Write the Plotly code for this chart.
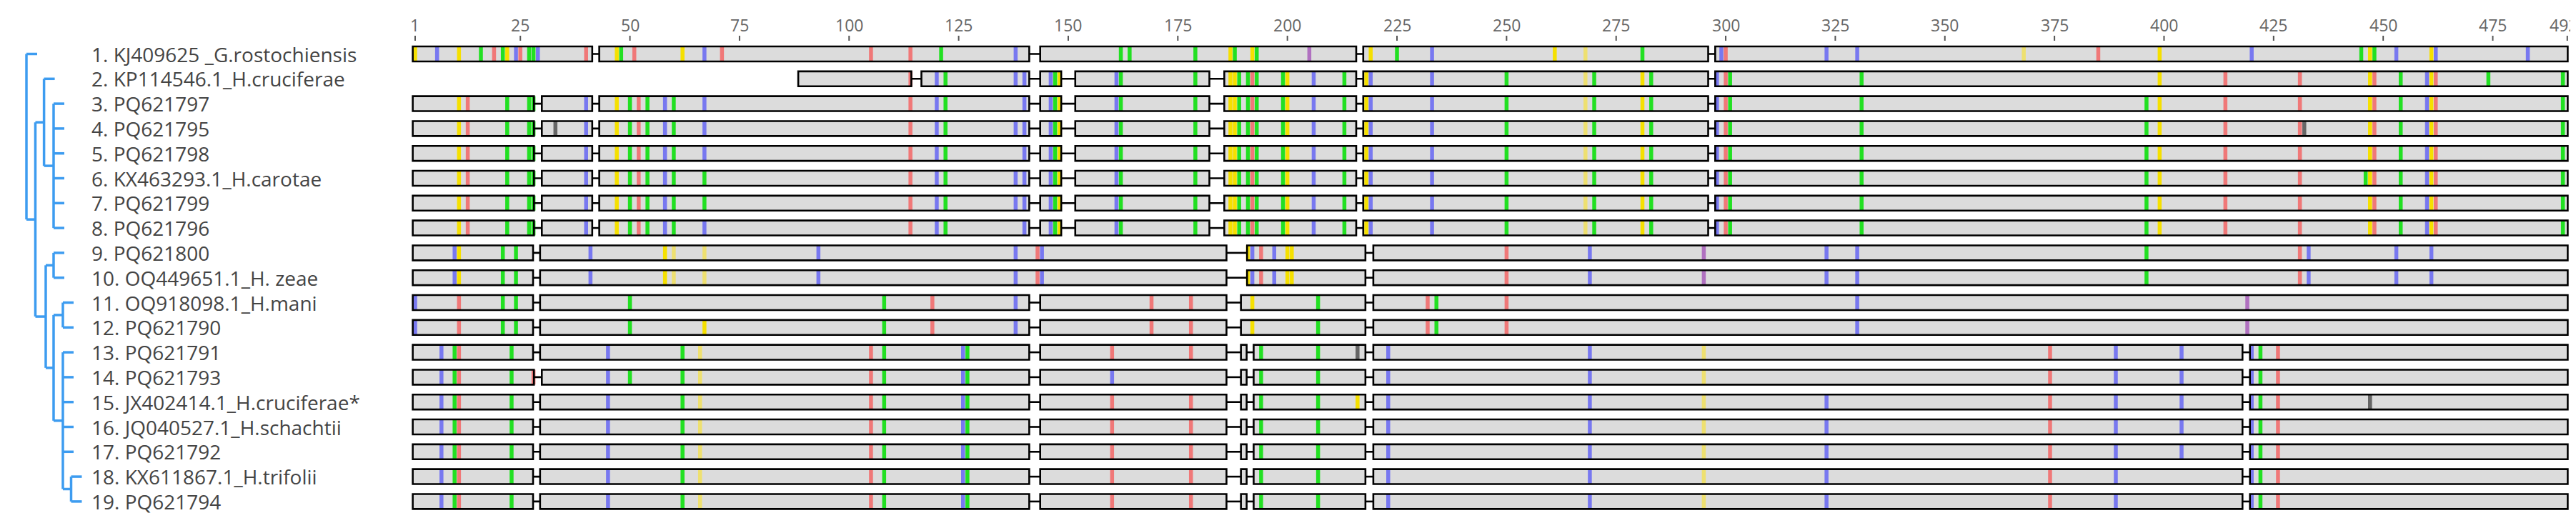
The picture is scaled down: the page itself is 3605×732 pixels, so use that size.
import plotly.graph_objects as go

W, H = 3605, 732

labels = ["1. KJ409625 _G.rostochiensis", "2. KP114546.1_H.cruciferae", "3. PQ621797", "4. PQ621795",
          "5. PQ621798", "6. KX463293.1_H.carotae", "7. PQ621799", "8. PQ621796", "9. PQ621800",
          "10. OQ449651.1_H. zeae", "11. OQ918098.1_H.mani", "12. PQ621790", "13. PQ621791",
          "14. PQ621793", "15. JX402414.1_H.cruciferae*", "16. JQ040527.1_H.schachtii",
          "17. PQ621792", "18. KX611867.1_H.trifolii", "19. PQ621794"]
tick_vals = [1, 25, 50, 75, 100, 125, 150, 175, 200, 225, 250, 275, 300, 325, 350, 375, 400, 425, 450, 475, 492]

# aligned segments (alignment coordinates)
seg_row1 = [(0.45, 41.4), (43.0, 141.1), (143.6, 215.7), (217.3, 296.0), (297.6, 492.1)]
seg_row2 = [(88.4, 114.2), (116.5, 141.1), (143.6, 148.4), (151.6, 182.2), (185.6, 215.7), (217.3, 296.0), (297.6, 492.1)]
seg_carot = [(0.45, 28.1), (29.9, 41.4), (43.0, 141.1), (143.6, 148.4), (151.6, 182.2), (185.6, 215.7), (217.3, 296.0), (297.6, 492.1)]
seg_zeae = [(0.45, 27.9), (29.5, 186.1), (190.8, 217.8), (219.6, 492.1)]
seg_mani = [(0.45, 27.9), (29.5, 141.1), (143.6, 186.1), (189.4, 217.8), (219.6, 492.1)]
seg_schach = [(0.45, 27.9), (29.5, 141.1), (143.6, 186.1), (189.4, 190.7), (192.3, 217.8), (219.6, 417.9), (419.6, 492.1)]
seg_row14 = [(0.45, 28.1), (29.9, 141.1), (143.6, 186.1), (189.4, 190.7), (192.3, 217.8), (219.6, 417.9), (419.6, 492.1)]
row_segments = [seg_row1, seg_row2] + [seg_carot] * 6 + [seg_zeae] * 2 + [seg_mani] * 2 + \
               [seg_schach, seg_row14] + [seg_schach] * 5

# variable sites (position, base class)
m_row1 = [(1,'Y'),(6,'B'),(11,'Y'),(16,'G'),(19,'R'),(21,'G'),(22,'Y'),(24,'B'),(25,'R'),(27,'G'),(28,'G'),(29,'B'),
          (40,'R'),(47,'Y'),(48,'G'),(51,'R'),(62,'Y'),(67,'B'),(71,'R'),(105,'R'),(114,'R'),(121,'G'),(138,'B'),
          (162,'G'),(164,'G'),(179,'G'),(187,'Y'),(188,'G'),(192,'Y'),(193,'G'),(205,'P'),(219,'Y'),(225,'G'),
          (233,'B'),(261,'Y'),(268,'y'),(281,'G'),(299,'B'),(300,'R'),(323,'B'),(330,'B'),(368,'y'),(385,'R'),
          (399,'Y'),(420,'B'),(445,'G'),(447,'Y'),(448,'G'),(453,'B'),(461,'Y'),(462,'B'),(483,'B')]
m_carot = [(114,'R'),(120,'B'),(122,'G'),(140,'B'),(146,'B'),(147,'G'),(148,'Y'),(161,'B'),(162,'G'),(179,'G'),
           (187,'Y'),(188,'Y'),(189,'G'),(191,'G'),(192,'R'),(193,'G'),(199,'G'),(200,'Y'),(206,'B'),(213,'G'),
           (218,'Y'),(219,'B'),(233,'B'),(250,'G'),(268,'y'),(270,'G'),(281,'Y'),(283,'G'),(298,'B'),(300,'R'),
           (301,'G'),(331,'G'),(399,'Y'),(414,'R'),(431,'R'),(447,'Y'),(448,'R'),(454,'G'),(460,'B'),(461,'Y'),
           (462,'R'),(491,'G')]
m_carot_front = [(11,'Y'),(13,'R'),(22,'G'),(27,'G'),(28,'G'),(40,'B'),(47,'Y'),(50,'G'),(52,'R'),(54,'G'),
                 (58,'B'),(60,'G'),(396,'G')]
m_zeae = [(10,'B'),(11,'Y'),(21,'G'),(24,'G'),(41,'B'),(58,'Y'),(60,'y'),(67,'y'),(93,'B'),(138,'B'),(143,'R'),
          (144,'B'),(191,'Y'),(192,'B'),(194,'R'),(197,'B'),(200,'Y'),(201,'Y'),(250,'R'),(269,'B'),(295,'P'),
          (323,'B'),(330,'B'),(396,'G'),(431,'R'),(433,'B'),(453,'B'),(461,'B')]
m_mani = [(1,'B'),(11,'R'),(21,'G'),(24,'G'),(50,'G'),(108,'G'),(119,'R'),(138,'B'),(169,'R'),(178,'R'),(192,'Y'),
          (207,'G'),(232,'R'),(234,'G'),(250,'R'),(330,'B'),(419,'P')]
m_schach = [(7,'B'),(10,'G'),(11,'R'),(23,'G'),(45,'B'),(62,'G'),(66,'y'),(105,'R'),(108,'G'),(126,'B'),(127,'G'),
            (194,'G'),(207,'G'),(223,'B'),(269,'B'),(295,'y'),(374,'R'),(389,'B'),(420,'B'),(422,'G'),(426,'R')]
row_marks = [
    m_row1,
    m_carot + [(138,'B'), (474,'G')],
    m_carot + m_carot_front + [(67,'B')],
    m_carot + m_carot_front + [(67,'B'), (138,'B'), (33,'K'), (432,'K')],
    m_carot + m_carot_front + [(67,'B')],
    m_carot + m_carot_front + [(67,'G'), (138,'B'), (446,'G')],
    m_carot + m_carot_front + [(67,'G'), (138,'B')],
    m_carot + m_carot_front + [(67,'B')],
    m_zeae, m_zeae,
    m_mani, m_mani + [(67,'Y')],
    m_schach + [(160,'R'),(178,'R'),(404,'B'),(216,'K')],
    m_schach + [(160,'B'),(28,'R'),(50,'G'),(404,'B')],
    m_schach + [(160,'R'),(178,'R'),(323,'B'),(404,'B'),(216,'Y'),(447,'K')],
    m_schach + [(160,'R'),(178,'R'),(323,'B'),(404,'B')],
    m_schach + [(160,'R'),(178,'R'),(323,'B'),(404,'B')],
    m_schach + [(160,'R'),(178,'R'),(323,'B')],
    m_schach + [(160,'R'),(178,'R'),(323,'B')],
]
colors = {'G': '#22e022', 'R': '#f07878', 'B': '#7878f0', 'Y': '#f5e000', 'y': '#eee070',
          'K': '#666666', 'P': '#b070c0'}

# tree topology: (x px, children); int child = leaf row
tree = (29, [1, (41.5, [(53.6, [2, (67, [3, 4, 5, 6, 7, 8])]),
                        (56, [(67, [9, 10]), (67, [(80, [11, 12]), (80, [13, 14, 15, 16, 17, (91.5, [18, 19])])])])])])

# geometry
ROW0, DY = 67.5, 34.8
x0px, ppx = 573, 6.134
def xpx(p): return x0px + (p - 1) * ppx
yr = [1 + (H - ROW0) / DY, 1 - ROW0 / DY]
xr = [0, 493]
dom = [xpx(xr[0]) / W, xpx(xr[1]) / W]
def ydat(px): return 1 + (px - ROW0) / DY

shapes, ann = [], []
BH = 0.3
for r in range(19):
    y = r + 1
    segs = row_segments[r]
    for a, b in segs:
        shapes.append(dict(type='rect', xref='x', yref='y', x0=a, x1=b, y0=y - BH, y1=y + BH,
                           fillcolor='#dcdcdc', line=dict(width=0), layer='above'))
    for p, c in row_marks[r]:
        shapes.append(dict(type='rect', xref='x', yref='y', x0=p - 0.45, x1=p + 0.45, y0=y - BH, y1=y + BH,
                           fillcolor=colors[c], line=dict(width=0), layer='above'))
    for i, (a, b) in enumerate(segs):
        shapes.append(dict(type='rect', xref='x', yref='y', x0=a, x1=b, y0=y - BH, y1=y + BH,
                           fillcolor='rgba(0,0,0,0)', line=dict(color='black', width=2.6), layer='above'))
        if i + 1 < len(segs):
            shapes.append(dict(type='line', xref='x', yref='y', x0=b, x1=segs[i + 1][0], y0=y, y1=y,
                               line=dict(color='black', width=2.6), layer='above'))
    ann.append(dict(x=118 / W, xref='paper', y=y, yref='y', text=labels[r], showarrow=False, xanchor='left',
                    font=dict(family='Open Sans', size=28, color='#444')))

for t in tick_vals:
    shapes.append(dict(type='line', xref='x', yref='y', x0=t, x1=t, y0=ydat(42), y1=ydat(49),
                       line=dict(color='#555', width=2)))
    last = t == tick_vals[-1]
    ann.append(dict(x=t, xref='x', y=ydat(27), yref='y', text=str(t), showarrow=False,
                    xanchor='right' if last else 'center', xshift=16 if last else 0,
                    font=dict(family='Open Sans', size=23, color='#666')))

TC = '#3d9cf0'
def draw(node):
    x, kids = node
    ys = []
    for k in kids:
        if isinstance(k, int):
            ky, kx = k, x + 15
        else:
            ky, kx = draw(k), k[0]
        shapes.append(dict(type='line', xref='paper', yref='y', x0=x / W, x1=kx / W, y0=ky, y1=ky,
                           line=dict(color=TC, width=3.5)))
        ys.append(ky)
    shapes.append(dict(type='line', xref='paper', yref='y', x0=x / W, x1=x / W, y0=min(ys), y1=max(ys),
                       line=dict(color=TC, width=3.5)))
    return (min(ys) + max(ys)) / 2
draw(tree)

fig = go.Figure()
fig.add_trace(go.Scatter(x=[1], y=[1], mode='markers', marker=dict(opacity=0), showlegend=False, hoverinfo='skip'))
fig.update_layout(width=W, height=H, margin=dict(l=0, r=0, t=0, b=0), plot_bgcolor='white', paper_bgcolor='white',
                  xaxis=dict(range=xr, domain=dom, visible=False), yaxis=dict(range=yr, visible=False),
                  shapes=shapes, annotations=ann, showlegend=False)
fig.write_html("out.html")
